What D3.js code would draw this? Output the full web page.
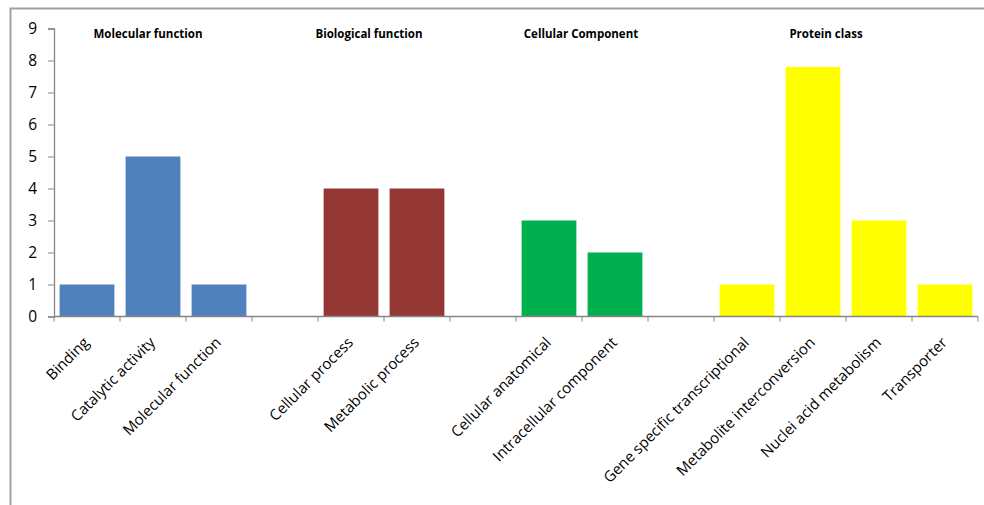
<!DOCTYPE html>
<html>
<head>
<meta charset="utf-8">
<script src="https://cdn.jsdelivr.net/npm/d3@7"></script>
<style>
  html, body { margin: 0; padding: 0; background: #fff; }
  svg { display: block; }
</style>
</head>
<body>
<svg id="chart" width="984" height="505"></svg>
<script>
// Gene ontology / protein class counts, grouped; "" entries are spacer slots between groups
const categories = [
  "Binding", "Catalytic activity", "Molecular function", "",
  "Cellular process", "Metabolic process", "",
  "Cellular anatomical", "Intracellular component", "",
  "Gene specific transcriptional", "Metabolite interconversion", "Nuclei acid metabolism", "Transporter"
];
const values = [1, 5, 1, null, 4, 4, null, 3, 2, null, 1, 7.8, 3, 1];
const groupOf = [0, 0, 0, null, 1, 1, null, 2, 2, null, 3, 3, 3, 3];
const groupNames = ["Molecular function", "Biological function", "Cellular Component", "Protein class"];
const groupColors = ["#4F81BD", "#953735", "#00B050", "#FFFF00"];
const yTicks = [0, 1, 2, 3, 4, 5, 6, 7, 8, 9];

const svg = d3.select("#chart");
const font = "'Open Sans', sans-serif";

// outer frame (top and left edges)
svg.append("path")
  .attr("d", "M10.5,505 V8.5 H984")
  .attr("fill", "none")
  .attr("stroke", "#a0a0a0")
  .attr("stroke-width", 2);

const plot = { left: 54, right: 978, top: 28.5, bottom: 316.5 };
const slots = categories.map((_, i) => "s" + i);

const x = d3.scaleBand()
  .domain(slots)
  .range([plot.left, plot.right])
  .paddingInner(0.17)
  .paddingOuter(0.085);

const y = d3.scaleLinear().domain([0, 9]).range([plot.bottom, plot.top]);

// bars
svg.append("g").selectAll("rect")
  .data(values.map((v, i) => ({ v, i })).filter(d => d.v !== null))
  .join("rect")
  .attr("x", d => x(slots[d.i]))
  .attr("y", d => y(d.v))
  .attr("width", x.bandwidth())
  .attr("height", d => y(0) - y(d.v))
  .attr("fill", d => groupColors[groupOf[d.i]]);

// y axis
const yAxis = svg.append("g")
  .attr("transform", `translate(${plot.left},0)`)
  .call(d3.axisLeft(y).tickValues(yTicks).tickSize(6).tickPadding(11).tickFormat(d3.format("d")));
yAxis.select(".domain").attr("stroke", "#868686").attr("stroke-width", 1.3);
yAxis.selectAll(".tick line").attr("stroke", "#868686");
yAxis.selectAll(".tick text")
  .attr("font-family", font).attr("font-size", 15.5).attr("fill", "#000");

// x axis: ticks at slot boundaries
const boundaries = d3.range(categories.length + 1).map(i => plot.left + i * (plot.right - plot.left) / categories.length);
const xAxisG = svg.append("g");
xAxisG.append("line")
  .attr("x1", plot.left).attr("x2", plot.right)
  .attr("y1", y(0)).attr("y2", y(0))
  .attr("stroke", "#868686").attr("stroke-width", 1.3);
xAxisG.selectAll("line.tk")
  .data(boundaries)
  .join("line")
  .attr("class", "tk")
  .attr("x1", d => d).attr("x2", d => d)
  .attr("y1", y(0)).attr("y2", y(0) + 5)
  .attr("stroke", "#868686");

// rotated category labels
xAxisG.selectAll("text")
  .data(categories.map((c, i) => ({ c, i })).filter(d => d.c))
  .join("text")
  .attr("transform", d => `translate(${x(slots[d.i]) + x.bandwidth() / 2 + 3},${y(0) + 27}) rotate(-45)`)
  .attr("text-anchor", "end")
  .attr("font-family", font)
  .attr("font-size", 15)
  .attr("fill", "#000")
  .text(d => d.c);

// group titles
const titleX = [148, 369, 581, 826];
svg.append("g").selectAll("text")
  .data(groupNames)
  .join("text")
  .attr("x", (d, i) => titleX[i])
  .attr("y", 38)
  .attr("text-anchor", "middle")
  .attr("font-family", font)
  .attr("font-weight", "bold")
  .attr("font-size", 11.5)
  .attr("fill", "#000")
  .text(d => d);
</script>
</body>
</html>
